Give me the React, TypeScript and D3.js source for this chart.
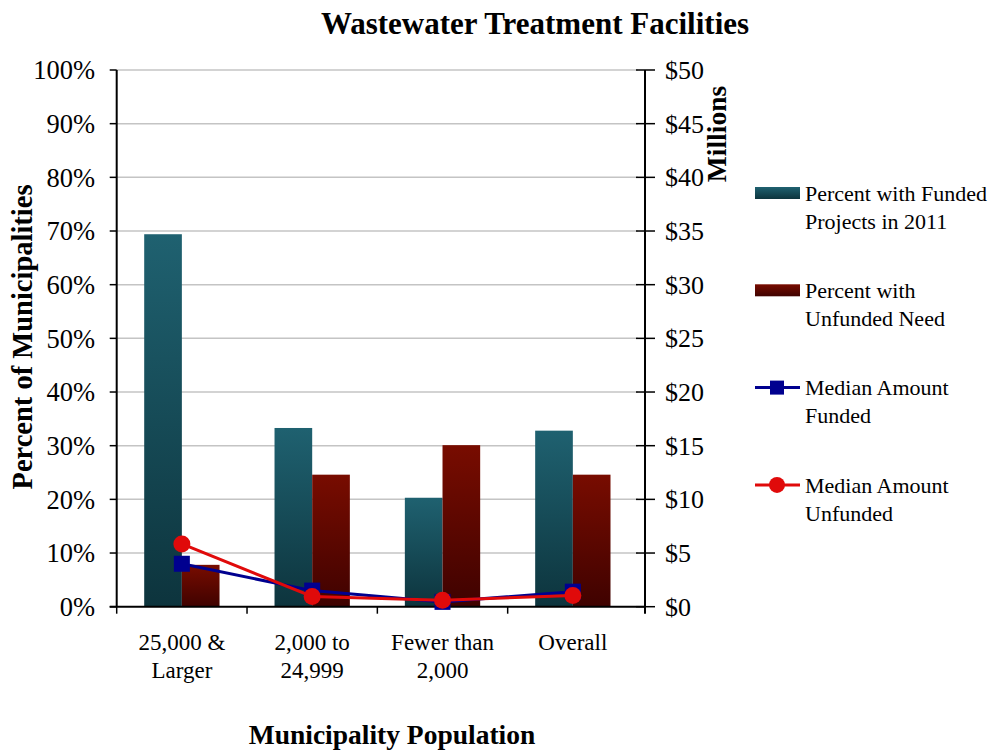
import React from "react";
import * as d3 from "d3";

const categories: string[][] = [["25,000 &", "Larger"], ["2,000 to", "24,999"], ["Fewer than", "2,000"], ["Overall"]];
const pctFunded = [69.4, 33.3, 20.3, 32.8];
const pctUnfunded = [7.8, 24.6, 30.1, 24.6];
const medianFunded = [4.0, 1.5, 0.45, 1.4];
const medianUnfunded = [5.85, 0.95, 0.6, 1.05];
const leftTicks = [0, 10, 20, 30, 40, 50, 60, 70, 80, 90, 100];
const rightTicks = [0, 5, 10, 15, 20, 25, 30, 35, 40, 45, 50];
const legendItems = [
  { key: "funded", lines: ["Percent with Funded", "Projects in 2011"] },
  { key: "unfunded", lines: ["Percent with", "Unfunded Need"] },
  { key: "mfunded", lines: ["Median Amount", "Funded"] },
  { key: "munfunded", lines: ["Median Amount", "Unfunded"] },
];

const FONT = "'Liberation Serif', 'DejaVu Serif', serif";

export default function App() {
  const left = 116.7, right = 638, axisR = 645, top = 70, bottom = 606.7;
  const x = d3.scaleBand<number>().domain(categories.map((_, i) => i)).range([left, right]);
  const bw = x.bandwidth();
  const xs = d3.scaleBand<string>().domain(["f", "u"]).range([0, bw * 0.578]);
  const off = (bw - bw * 0.578) / 2;
  const y = d3.scaleLinear().domain([0, 100]).range([bottom, top]);
  const y2 = d3.scaleLinear().domain([0, 50]).range([bottom, top]);
  const cx = (i: number) => (x(i) as number) + bw / 2;
  const line = d3.line<number>().x((_, i) => cx(i)).y((d) => y2(d));

  return (
    <svg width={992} height={750} style={{ position: "absolute", left: 0, top: 0, background: "#fff" }} fontFamily={FONT}>
      <defs>
        <linearGradient id="gF" x1="0" y1="0" x2="0" y2="1">
          <stop offset="0" stopColor="#1f6170" />
          <stop offset="1" stopColor="#0d343d" />
        </linearGradient>
        <linearGradient id="gU" x1="0" y1="0" x2="0" y2="1">
          <stop offset="0" stopColor="#780c00" />
          <stop offset="1" stopColor="#3f0200" />
        </linearGradient>
      </defs>
      <rect width={992} height={750} fill="#fff" />
      <text x={535} y={34} textAnchor="middle" fontSize={31} fontWeight="bold">Wastewater Treatment Facilities</text>

      {leftTicks.filter((t) => t > 0).map((t) => (
        <line key={"g" + t} x1={left} x2={right} y1={y(t)} y2={y(t)} stroke="#c4c4c4" strokeWidth={1.5} />
      ))}

      {pctFunded.map((v, i) => (
        <rect key={"f" + i} x={(x(i) as number) + off + (xs("f") as number)} y={y(v)} width={xs.bandwidth()} height={bottom - y(v)} fill="url(#gF)" />
      ))}
      {pctUnfunded.map((v, i) => (
        <rect key={"u" + i} x={(x(i) as number) + off + (xs("u") as number)} y={y(v)} width={xs.bandwidth()} height={bottom - y(v)} fill="url(#gU)" />
      ))}

      {/* axes */}
      <line x1={left} x2={left} y1={top} y2={bottom} stroke="#000" strokeWidth={2} />
      {leftTicks.map((t) => (
        <line key={"lt" + t} x1={left - 7} x2={left} y1={y(t)} y2={y(t)} stroke="#000" strokeWidth={1.5} />
      ))}
      {leftTicks.map((t) => (
        <text key={"ll" + t} x={95} y={y(t)} dy="0.35em" textAnchor="end" fontSize={26.5}>{t}%</text>
      ))}
      <line x1={axisR} x2={axisR} y1={top} y2={bottom + 7} stroke="#000" strokeWidth={2} />
      {rightTicks.map((t) => (
        <line key={"rt" + t} x1={axisR - 9} x2={axisR + 10} y1={y2(t)} y2={y2(t)} stroke="#000" strokeWidth={1.5} />
      ))}
      {rightTicks.map((t) => (
        <text key={"rl" + t} x={665} y={y2(t)} dy="0.35em" textAnchor="start" fontSize={26}>${t}</text>
      ))}
      <line x1={left - 7} x2={axisR} y1={bottom} y2={bottom} stroke="#000" strokeWidth={2} />
      {categories.map((_, i) => (
        <line key={"bt" + i} x1={x(i) as number} x2={x(i) as number} y1={bottom} y2={bottom + 7} stroke="#000" strokeWidth={1.5} />
      ))}
      {categories.map((lines, i) => (
        <text key={"cl" + i} x={cx(i)} y={650} textAnchor="middle" fontSize={23}>
          {lines.map((l, j) => (
            <tspan key={j} x={cx(i)} dy={j === 0 ? 0 : 28}>{l}</tspan>
          ))}
        </text>
      ))}

      {/* lines */}
      <path d={line(medianFunded) as string} fill="none" stroke="#00008f" strokeWidth={3} />
      {medianFunded.map((v, i) => (
        <rect key={"sq" + i} x={cx(i) - 8} y={y2(v) - 8} width={16} height={16} fill="#00008f" />
      ))}
      <path d={line(medianUnfunded) as string} fill="none" stroke="#e00a0a" strokeWidth={3} />
      {medianUnfunded.map((v, i) => (
        <circle key={"ci" + i} cx={cx(i)} cy={y2(v)} r={8.5} fill="#e00a0a" />
      ))}

      {/* axis titles */}
      <text transform="translate(32,337) rotate(-90)" textAnchor="middle" fontSize={28.5} fontWeight="bold">Percent of Municipalities</text>
      <text transform="translate(726,134) rotate(-90)" textAnchor="middle" fontSize={27.5} fontWeight="bold">Millions</text>
      <text x={392} y={744} textAnchor="middle" fontSize={27.5} fontWeight="bold">Municipality Population</text>

      {/* legend */}
      {legendItems.map((it, k) => {
        const ly = 193 + k * 97.3;
        return (
          <g key={it.key}>
            {it.key === "funded" && <rect x={755} y={ly - 6} width={45} height={12} fill="url(#gF)" />}
            {it.key === "unfunded" && <rect x={755} y={ly - 6} width={45} height={12} fill="url(#gU)" />}
            {it.key === "mfunded" && (
              <g>
                <line x1={755} x2={800} y1={ly} y2={ly} stroke="#00008f" strokeWidth={3} />
                <rect x={770} y={ly - 7} width={14} height={14} fill="#00008f" />
              </g>
            )}
            {it.key === "munfunded" && (
              <g>
                <line x1={755} x2={800} y1={ly} y2={ly} stroke="#e00a0a" strokeWidth={3} />
                <circle cx={777} cy={ly} r={8} fill="#e00a0a" />
              </g>
            )}
            <text x={805} y={ly} fontSize={22}>
              {it.lines.map((l, j) => (
                <tspan key={j} x={805} dy={j === 0 ? "0.35em" : 28}>{l}</tspan>
              ))}
            </text>
          </g>
        );
      })}
    </svg>
  );
}
